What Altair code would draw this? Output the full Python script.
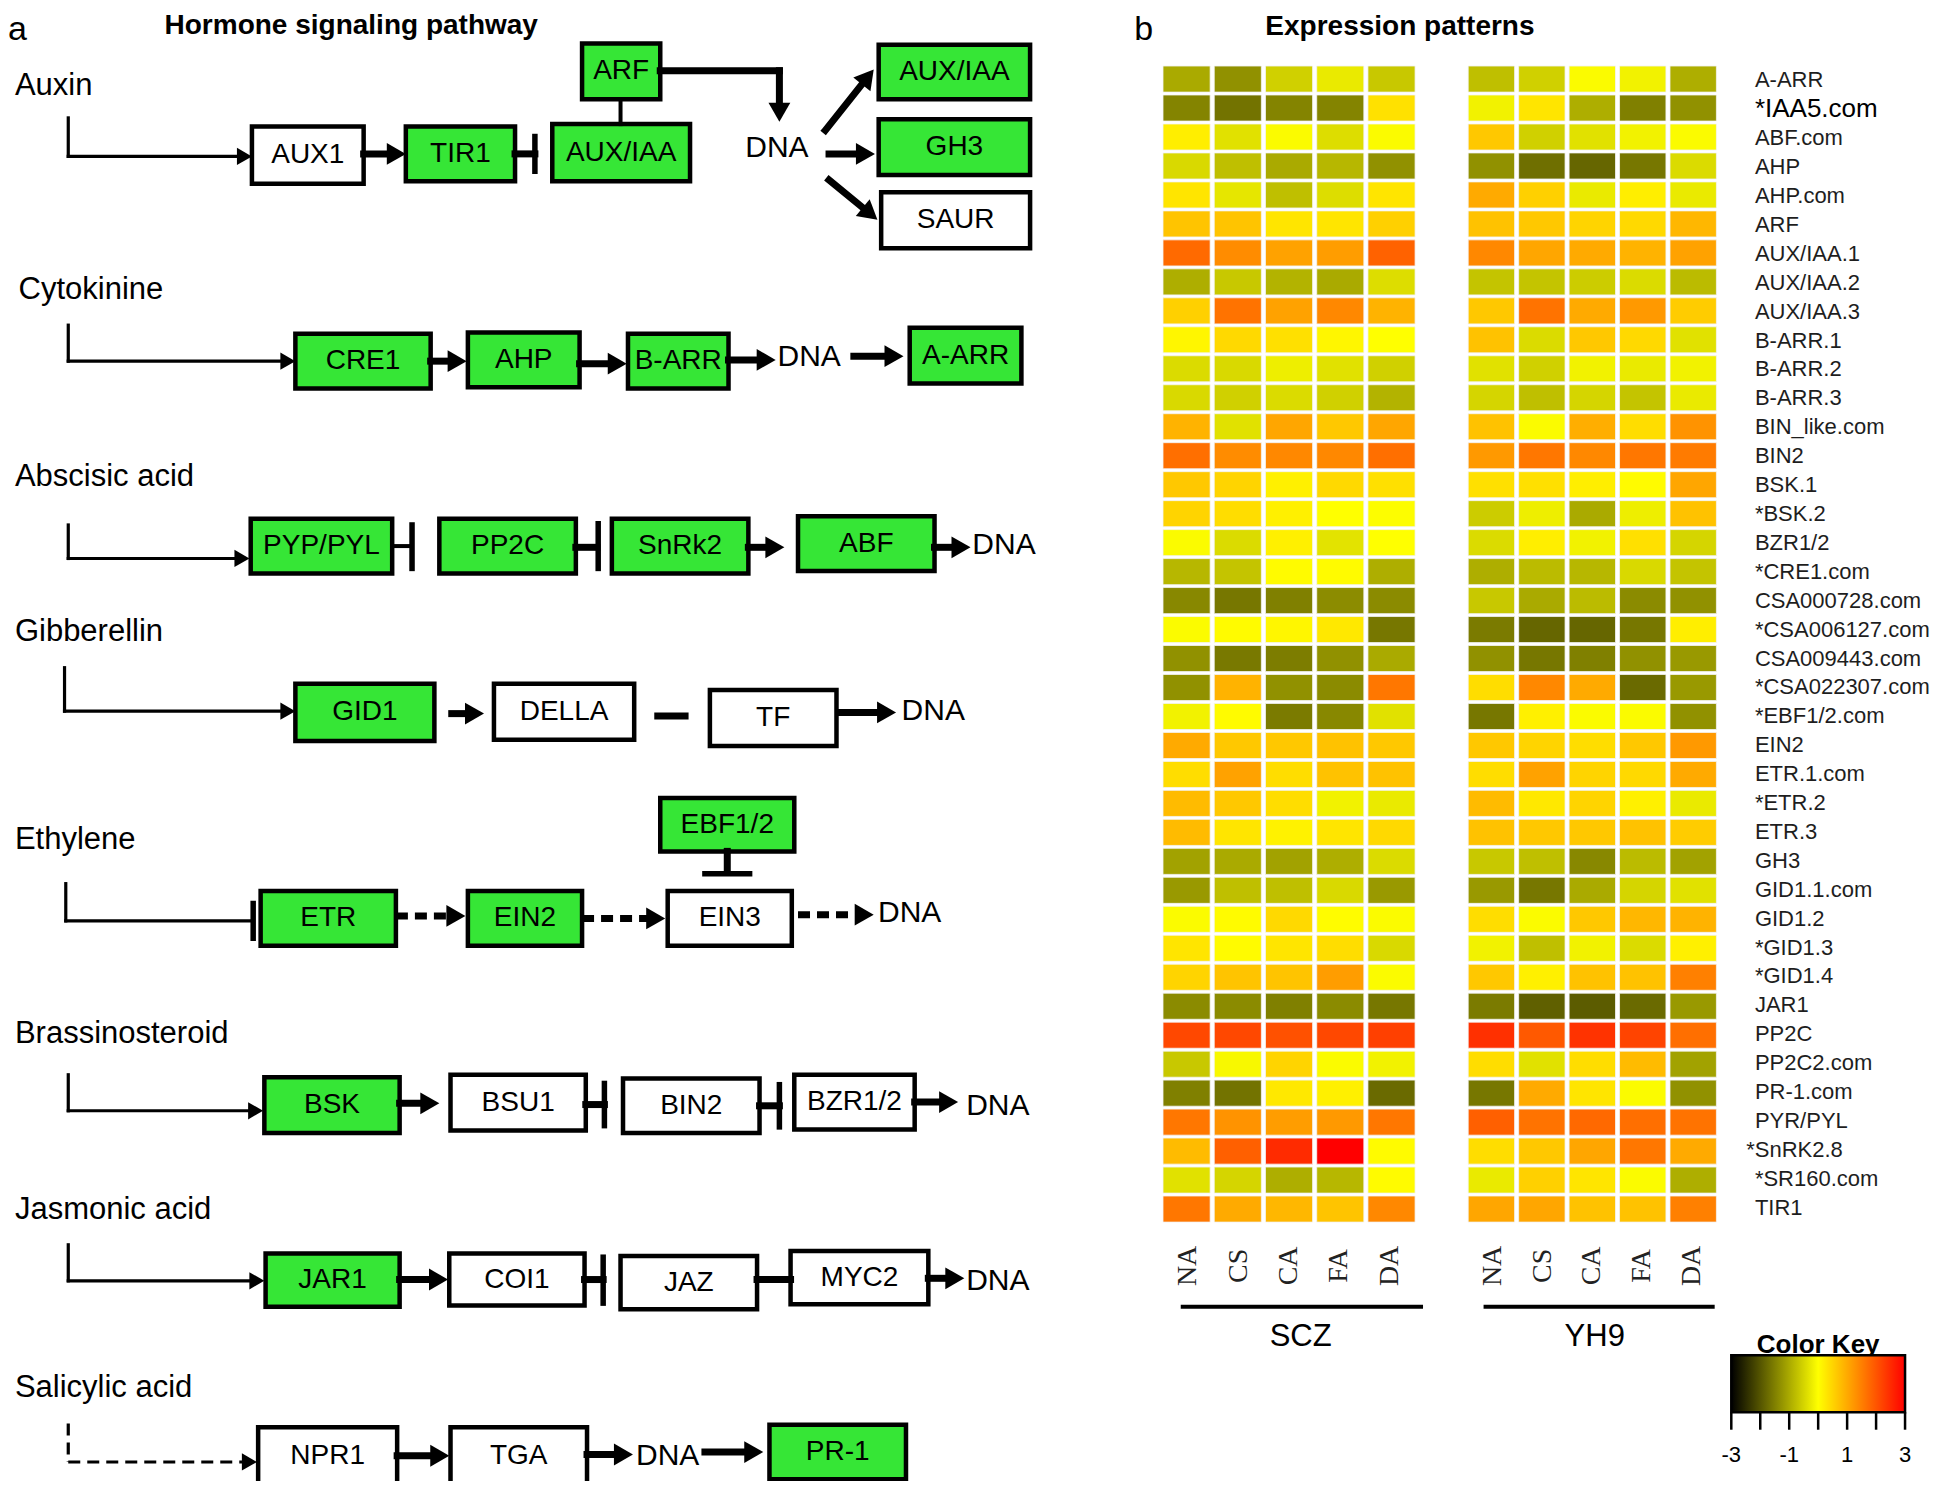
import math
import altair as alt
import pandas as pd

# ---------------- heatmap data ----------------
GENES = ["A-ARR", "*IAA5.com", "ABF.com", "AHP", "AHP.com", "ARF", "AUX/IAA.1", "AUX/IAA.2",
         "AUX/IAA.3", "B-ARR.1", "B-ARR.2", "B-ARR.3", "BIN_like.com", "BIN2", "BSK.1", "*BSK.2",
         "BZR1/2", "*CRE1.com", "CSA000728.com", "*CSA006127.com", "CSA009443.com",
         "*CSA022307.com", "*EBF1/2.com", "EIN2", "ETR.1.com", "*ETR.2", "ETR.3", "GH3",
         "GID1.1.com", "GID1.2", "*GID1.3", "*GID1.4", "JAR1", "PP2C", "PP2C2.com", "PR-1.com",
         "PYR/PYL", "*SnRK2.8", "*SR160.com", "TIR1"]
CONDS = ["NA", "CS", "CA", "FA", "DA"]
GROUPS = ["SCZ", "YH9"]

SCZ = [
    [-1.0, -1.3, -0.55, -0.25, -0.65], [-1.45, -1.65, -1.45, -1.45, 0.35],
    [0.2, -0.35, -0.05, -0.4, -0.05], [-0.45, -0.75, -1.0, -0.85, -1.3],
    [0.3, -0.3, -0.75, -0.4, 0.3], [0.7, 0.7, 0.3, 0.3, 0.55],
    [1.75, 1.35, 1.1, 1.15, 1.85], [-0.95, -0.65, -0.9, -1.0, -0.4],
    [0.55, 1.65, 1.1, 1.4, 0.9], [0.1, 0.45, 0.37, 0.1, 0.0],
    [-0.42, -0.45, -0.2, -0.35, -0.55], [-0.45, -0.55, -0.42, -0.55, -0.9],
    [0.9, -0.35, 1.05, 0.65, 1.05], [1.7, 1.35, 1.4, 1.4, 1.7],
    [0.65, 0.5, 0.18, 0.45, 0.37], [0.5, 0.4, 0.18, 0.0, -0.02],
    [-0.05, -0.42, 0.18, -0.33, 0.0], [-0.85, -0.7, 0.05, 0.05, -0.95],
    [-1.4, -1.6, -1.5, -1.35, -1.37], [-0.05, 0.05, 0.1, 0.27, -1.6],
    [-1.3, -1.58, -1.53, -1.3, -1.0], [-1.3, 0.9, -1.3, -1.37, 1.6],
    [-0.15, 0.05, -1.55, -1.4, -0.35], [1.0, 0.65, 0.65, 0.72, 0.65],
    [0.4, 1.1, 0.4, 0.72, 0.72], [0.8, 0.65, 0.4, -0.15, -0.25],
    [0.8, 0.3, 0.15, 0.3, 0.45], [-1.1, -1.0, -1.1, -0.95, -0.42],
    [-1.2, -0.75, -0.75, -0.45, -1.2], [-0.05, 0.05, 0.45, 0.03, -0.05],
    [0.3, 0.05, 0.3, 0.4, -0.45], [0.5, 0.7, 0.7, 1.15, -0.05],
    [-1.37, -1.37, -1.5, -1.37, -1.6], [2.15, 2.15, 2.05, 2.15, 2.25],
    [-0.65, -0.08, 0.5, -0.05, -0.15], [-1.5, -1.65, 0.27, 0.18, -1.75],
    [1.6, 1.27, 1.15, 1.2, 1.6], [0.8, 1.87, 2.5, 3.0, 0.05],
    [-0.35, -0.5, -0.95, -0.85, 0.05], [1.6, 1.0, 0.85, 0.7, 1.4],
]
YH9 = [
    [-0.75, -0.55, -0.05, -0.15, -0.95], [-0.15, 0.3, -0.95, -1.5, -1.3],
    [0.65, -0.55, -0.35, -0.15, -0.05], [-1.3, -1.7, -1.8, -1.6, -0.42],
    [1.0, 0.55, -0.25, 0.2, -0.25], [0.72, 0.65, 0.5, 0.45, 0.85],
    [1.4, 1.05, 1.0, 0.9, 1.1], [-0.7, -0.7, -0.6, -0.42, -0.8],
    [0.65, 1.65, 1.0, 1.2, 0.6], [0.72, -0.42, 0.65, 0.45, -0.35],
    [-0.35, -0.55, -0.15, -0.25, -0.15], [-0.5, -0.75, -0.5, -0.7, -0.25],
    [0.72, -0.05, 0.95, 0.4, 1.27], [1.2, 1.6, 1.4, 1.6, 1.55],
    [0.37, 0.37, 0.2, 0.05, 1.05], [-0.6, -0.2, -1.0, -0.2, 0.72],
    [-0.42, 0.2, -0.15, 0.37, -0.5], [-0.95, -0.8, -0.85, -0.45, -0.7],
    [-0.65, -1.0, -0.8, -1.37, -1.3], [-1.55, -1.8, -1.8, -1.6, 0.2],
    [-1.3, -1.6, -1.5, -1.3, -1.2], [0.4, 1.4, 1.0, -1.75, -1.2],
    [-1.6, 0.18, -0.05, -0.05, -1.3], [0.65, 0.5, 0.4, 0.65, 1.2],
    [0.4, 1.1, 0.5, 0.45, 1.0], [0.8, 0.27, 0.5, 0.18, -0.25],
    [0.72, 0.65, 0.65, 0.72, 0.6], [-0.65, -0.75, -1.4, -0.8, -1.1],
    [-1.2, -1.6, -1.0, -0.5, -0.35], [0.4, -0.05, 0.65, 0.85, 0.9],
    [-0.15, -0.75, -0.15, -0.42, 0.18], [0.65, 0.18, 0.72, 0.72, 1.5],
    [-1.55, -1.87, -1.92, -1.75, -1.2], [2.43, 1.95, 2.4, 2.2, 1.7],
    [0.4, -0.35, 0.4, 0.8, -1.1], [-1.6, 1.0, 0.3, -0.05, -1.3],
    [1.87, 1.65, 1.77, 1.7, 1.65], [0.4, 0.65, 1.05, 1.6, 1.0],
    [-0.25, 0.55, 0.3, -0.05, -0.95], [1.05, 1.05, 0.72, 0.72, 1.5],
]
KEY_TICKS = [-3, -2, -1, 0, 1, 2, 3]
KEY_LABELS = [-3, -1, 1, 3]

# ---------------- pathway diagram data (units of the 1568-wide figure) ----------------
BOXES = [
    ("AUX1", 203, 293, 102, 148, 0), ("TIR1", 327, 415, 102, 146, 1),
    ("AUX/IAA", 445, 556, 100, 146, 1), ("ARF", 469, 532, 35, 80, 1),
    ("AUX/IAA", 708, 830, 36, 80, 1), ("GH3", 708, 830, 96, 141, 1),
    ("SAUR", 710, 830, 155, 200, 0),
    ("CRE1", 238, 347, 269, 313, 1), ("AHP", 377, 467, 268, 312, 1),
    ("B-ARR", 506, 587, 269, 313, 1), ("A-ARR", 733, 823, 264, 309, 1),
    ("PYP/PYL", 202, 316, 418, 462, 1), ("PP2C", 354, 464, 418, 462, 1),
    ("SnRk2", 493, 603, 418, 462, 1), ("ABF", 643, 753, 416, 460, 1),
    ("GID1", 238, 350, 551, 597, 1), ("DELLA", 398, 511, 551, 596, 0),
    ("TF", 572, 674, 556, 601, 0),
    ("EBF1/2", 532, 640, 643, 686, 1), ("ETR", 210, 319, 718, 762, 1),
    ("EIN2", 377, 469, 718, 762, 1), ("EIN3", 538, 638, 718, 762, 0),
    ("BSK", 213, 322, 868, 913, 1), ("BSU1", 363, 472, 866, 911, 0),
    ("BIN2", 502, 612, 869, 913, 0), ("BZR1/2", 640, 737, 866, 910, 0),
    ("JAR1", 214, 322, 1010, 1053, 1), ("COI1", 362, 471, 1010, 1052, 0),
    ("JAZ", 500, 610, 1012, 1055, 0), ("MYC2", 637, 748, 1008, 1051, 0),
    ("NPR1", 208, 320, 1150, 1196, 0), ("TGA", 363, 473, 1150, 1196, 0),
    ("PR-1", 620, 730, 1148, 1192, 1),
]
PATHWAYS = [("Auxin", 12, 69), ("Cytokinine", 15, 234), ("Abscisic acid", 12, 384),
            ("Gibberellin", 12, 509), ("Ethylene", 12, 677), ("Brassinosteroid", 12, 833),
            ("Jasmonic acid", 12, 975), ("Salicylic acid", 12, 1118)]
DNA_LABELS = [(626, 119), (652, 288), (809, 439), (752, 573), (733, 736), (804, 891),
              (804, 1032), (538, 1173)]
ARROWS = [
    (55, 126, 203, 126, "thin"), (293, 124, 327, 124, "thick"), (628, 57, 628, 98, "thick"),
    (665, 105, 704, 56, "thick"), (668, 124, 705, 124, "thick"), (668, 145, 707, 177, "thick"),
    (55, 291, 238, 291, "thin"), (347, 291, 376, 291, "thick"), (467, 293, 505, 293, "thick"),
    (587, 290, 625, 290, "thick"), (688, 287, 728, 287, "thick"),
    (55, 450, 201, 450, "thin"), (603, 441, 632, 441, "thick"), (753, 441, 782, 441, "thick"),
    (52, 573, 238, 573, "thin"), (364, 575, 390, 575, "thick"), (676, 574, 722, 574, "thick"),
    (319, 738, 375, 738, "dthick"), (469, 740, 536, 740, "dthick"), (643, 737, 704, 737, "dthick"),
    (55, 895, 212, 895, "thin"), (322, 889, 354, 889, "thick"), (737, 888, 772, 888, "thick"),
    (55, 1032, 213, 1032, "thin"), (322, 1031, 361, 1031, "thick"), (748, 1030, 777, 1030, "thick"),
    (55, 1178, 207, 1178, "dthin"), (320, 1173, 362, 1173, "thick"), (473, 1172, 510, 1172, "thick"),
    (568, 1170, 615, 1170, "thick"),
]
LINES = [
    (55, 95, 55, 126, "thin"), (415, 124, 431, 124, "thick"), (431, 110, 431, 138, "bar"),
    (500, 80, 500, 100, "mid"), (532, 57, 628, 57, "thick"),
    (55, 262, 55, 291, "thin"),
    (55, 423, 55, 450, "thin"), (316, 440, 331, 440, "mid"), (332, 423, 332, 458, "bar"),
    (464, 441, 481, 441, "thick"), (482, 422, 482, 458, "bar"),
    (52, 538, 52, 573, "thin"), (530, 577, 552, 577, "thick"),
    (586, 686, 586, 703, "thick"), (568, 704, 604, 704, "bar"),
    (53, 712, 53, 742, "thin"), (53, 742, 203, 742, "thin"), (204, 728, 204, 756, "bar"),
    (55, 866, 55, 895, "thin"), (472, 890, 487, 890, "thick"), (487, 873, 487, 907, "bar"),
    (612, 891, 628, 891, "thick"), (628, 874, 628, 908, "bar"),
    (55, 1003, 55, 1032, "thin"), (471, 1031, 486, 1031, "thick"), (486, 1013, 486, 1050, "bar"),
    (610, 1031, 637, 1031, "thick"),
    (953, 1053, 1145, 1053, "mid"), (1197, 1053, 1380, 1053, "mid"),
    (55, 1147, 55, 1178, "dthin"),
]

# ---------------- layout / styles ----------------
S = 1946 / 1568
OFF = 8
W, H = 1930, 1473
SANS = "Liberation Sans, Arial, sans-serif"
SERIF = "Liberation Serif, Times New Roman, serif"
GREEN = "#36e636"
WIDTHS = {"thin": 3.2, "thick": 7, "mid": 4, "bar": 5.5, "dthick": 7, "dthin": 3.2}
HEAD = {"thin": 15, "dthin": 15, "thick": 19, "dthick": 19}
HEAD_PATH = "M0,0L-2,-1.15L-2,1.15Z"


def cpx(u):
    return u * S - OFF


XD = alt.Scale(domain=[OFF / S, (W + OFF) / S], range=[0, W], nice=False, zero=False)
YD = alt.Scale(domain=[OFF / S, (H + OFF) / S], range=[0, H], nice=False, zero=False)
YB = alt.Scale(domain=GENES, range=[cpx(53.2), cpx(984.7)], paddingInner=0.1, paddingOuter=0)
XB = {"SCZ": alt.Scale(domain=CONDS, range=[cpx(937.1), cpx(1140.2)], paddingInner=0.08, paddingOuter=0),
      "YH9": alt.Scale(domain=CONDS, range=[cpx(1183), cpx(1383)], paddingInner=0.08, paddingOuter=0)}
KX = alt.Scale(domain=[-3, 3], range=[cpx(1395), cpx(1535)], nice=False, zero=False)
CSCALE = alt.Scale(domain=[-3, 0, 3], range=["#000000", "#ffff00", "#ff0000"], interpolate="rgb")


def qx(f, sc=XD):
    return alt.X(f, type="quantitative", scale=sc, axis=None)


def qy(f, sc=YD):
    return alt.Y(f, type="quantitative", scale=sc, axis=None)


# ---------------- build tables ----------------
heat_rows = []
for g, table in zip(GROUPS, [SCZ, YH9]):
    for gene, vals in zip(GENES, table):
        for c, v in zip(CONDS, vals):
            heat_rows.append({"group": g, "gene": gene, "cond": c, "v": v})
heat = pd.DataFrame(heat_rows)

boxes = pd.DataFrame(BOXES, columns=["label", "x0", "x1", "y0", "y1", "on"])
boxes["fill"] = boxes["on"].map({1: GREEN, 0: "white"})
boxes["cx"] = (boxes.x0 + boxes.x1) / 2
boxes["cy"] = (boxes.y0 + boxes.y1) / 2

seg_rows, head_rows = [], []
for x1, y1, x2, y2, kind in ARROWS:
    d = math.hypot(x2 - x1, y2 - y1)
    ux, uy = (x2 - x1) / d, (y2 - y1) / d
    back = HEAD[kind] * 0.75 / S
    seg_rows.append({"x1": x1, "y1": y1, "x2": x2 - ux * back, "y2": y2 - uy * back,
                     "w": WIDTHS[kind], "dash": kind.startswith("d")})
    head_rows.append({"x": x2, "y": y2, "ang": (math.degrees(math.atan2(y2 - y1, x2 - x1)) + 360) % 360,
                      "sz": HEAD[kind] ** 2})
for x1, y1, x2, y2, kind in LINES:
    seg_rows.append({"x1": x1, "y1": y1, "x2": x2, "y2": y2, "w": WIDTHS[kind],
                     "dash": kind.startswith("d")})
segs = pd.DataFrame(seg_rows)
heads = pd.DataFrame(head_rows)

layers = []

# boxes
layers.append(alt.Chart(boxes).mark_rect(stroke="black", strokeWidth=4.5).encode(
    x=qx("x0"), x2="x1", y=qy("y0"), y2="y1", fill=alt.Fill("fill:N", scale=None)))
layers.append(alt.Chart(boxes).mark_text(font=SANS, fontSize=28, baseline="middle").encode(
    x=qx("cx"), y=qy("cy"), text="label:N"))

# connectors
layers.append(alt.Chart(segs[~segs.dash]).mark_rule(color="black", strokeCap="square").encode(
    x=qx("x1"), x2="x2", y=qy("y1"), y2="y2", strokeWidth=alt.StrokeWidth("w:Q", scale=None)))
layers.append(alt.Chart(segs[segs.dash]).mark_rule(color="black", strokeDash=[12, 7]).encode(
    x=qx("x1"), x2="x2", y=qy("y1"), y2="y2", strokeWidth=alt.StrokeWidth("w:Q", scale=None)))
layers.append(alt.Chart(heads).mark_point(shape=HEAD_PATH, filled=True, color="black", opacity=1,
                                          strokeWidth=0).encode(
    x=qx("x"), y=qy("y"), angle=alt.Angle("ang:Q", scale=None), size=alt.Size("sz:Q", scale=None)))

# text labels of the diagram
pw = pd.DataFrame(PATHWAYS, columns=["t", "x", "y"])
layers.append(alt.Chart(pw).mark_text(font=SANS, fontSize=31, align="left", baseline="middle").encode(
    x=qx("x"), y=qy("y"), text="t:N"))
dna = pd.DataFrame(DNA_LABELS, columns=["x", "y"])
dna["t"] = "DNA"
layers.append(alt.Chart(dna).mark_text(font=SANS, fontSize=30, baseline="middle").encode(
    x=qx("x"), y=qy("y"), text="t:N"))

titles = pd.DataFrame([("Hormone signaling pathway", 283, 27, 28), ("Expression patterns", 1128, 28, 28)],
                      columns=["t", "x", "y", "fs"])
layers.append(alt.Chart(titles).mark_text(font=SANS, fontWeight="bold", baseline="alphabetic").encode(
    x=qx("x"), y=qy("y"), text="t:N", size=alt.Size("fs:Q", scale=None)))
ck = pd.DataFrame([("Color Key", 1465, 1090)], columns=["t", "x", "y"])
layers.append(alt.Chart(ck).mark_text(font=SANS, fontWeight="bold", fontSize=26, baseline="alphabetic").encode(
    x=qx("x"), y=qy("y"), text="t:N"))
panels = pd.DataFrame([("a", 6.5, 32), ("b", 914, 32)], columns=["t", "x", "y"])
layers.append(alt.Chart(panels).mark_text(font=SANS, fontSize=34, align="left", baseline="alphabetic").encode(
    x=qx("x"), y=qy("y"), text="t:N"))
grp = pd.DataFrame([("SCZ", 1048, 1077), ("YH9", 1285, 1077)], columns=["t", "x", "y"])
layers.append(alt.Chart(grp).mark_text(font=SANS, fontSize=31, baseline="middle").encode(
    x=qx("x"), y=qy("y"), text="t:N"))

# heatmap
for g in GROUPS:
    d = heat[heat.group == g]
    layers.append(alt.Chart(d).mark_rect(stroke="#f4f4f4", strokeWidth=0.8).encode(
        x=alt.X("cond:N", scale=XB[g], axis=None),
        y=alt.Y("gene:N", scale=YB, axis=None),
        color=alt.Color("v:Q", scale=CSCALE, legend=None)))
    cl = pd.DataFrame({"cond": CONDS, "ly": [1020] * len(CONDS)})
    layers.append(alt.Chart(cl).mark_text(font=SERIF, fontSize=28, angle=270, baseline="middle",
                                          color="#222222").encode(
        x=alt.X("cond:N", scale=XB[g], axis=None), y=qy("ly"), text="cond:N"))

gl = pd.DataFrame({"gene": GENES})
gl["lx"] = [1407 if g == "*SnRK2.8" else 1414 for g in GENES]
gl["fs"] = [26 if g == "*IAA5.com" else 22 for g in GENES]
gl["tc"] = ["#000000" if g == "*IAA5.com" else "#1e1e1e" for g in GENES]
layers.append(alt.Chart(gl).mark_text(font=SANS, align="left", baseline="middle").encode(
    x=qx("lx"), y=alt.Y("gene:N", scale=YB, axis=None), text="gene:N",
    size=alt.Size("fs:Q", scale=None), color=alt.Color("tc:N", scale=None)))

# colour key
grad = alt.LinearGradient(gradient="linear", x1=0, x2=1, y1=0, y2=0,
                          stops=[alt.GradientStop(color="#000000", offset=0),
                                 alt.GradientStop(color="#ffff00", offset=0.5),
                                 alt.GradientStop(color="#ff0000", offset=1)])
kb = pd.DataFrame({"a": [KEY_TICKS[0]], "b": [KEY_TICKS[-1]], "y0": [1092], "y1": [1138]})
layers.append(alt.Chart(kb).mark_rect(fill=grad, stroke="black", strokeWidth=2.5).encode(
    x=qx("a", KX), x2="b", y=qy("y0"), y2="y1"))
kt = pd.DataFrame({"k": KEY_TICKS, "y0": 1138, "y1": 1152})
layers.append(alt.Chart(kt).mark_rule(color="black", strokeWidth=2.5).encode(
    x=qx("k", KX), y=qy("y0"), y2="y1"))
kl = pd.DataFrame({"k": KEY_LABELS, "y": 1172})
kl["t"] = [str(k) for k in KEY_LABELS]
layers.append(alt.Chart(kl).mark_text(font=SANS, fontSize=22, baseline="middle").encode(
    x=qx("k", KX), y=qy("y"), text="t:N"))

chart = alt.layer(*layers).resolve_scale(
    x="independent", y="independent", color="independent", size="independent",
    fill="independent", angle="independent", strokeWidth="independent"
).properties(
    width=W, height=H, padding=0, background="white",
    autosize=alt.AutoSizeParams(type="none")
).configure_view(stroke=None)

chart.save("out.html", embed_options={"renderer": "svg", "actions": False})
